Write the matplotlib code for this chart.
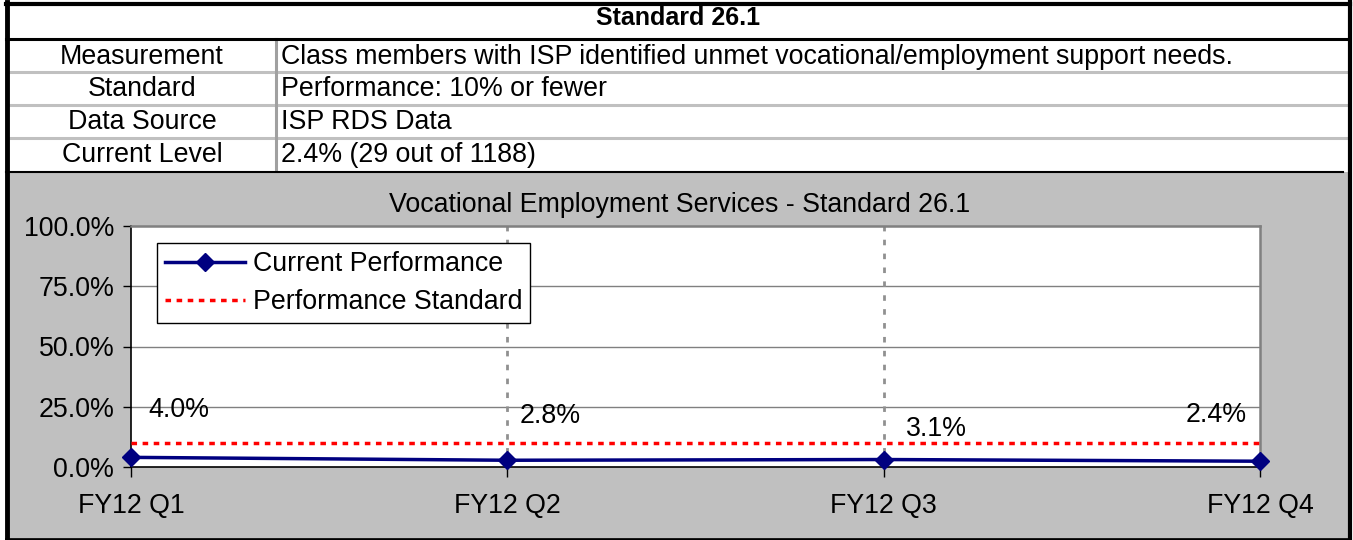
import matplotlib.pyplot as plt
from matplotlib.lines import Line2D
from matplotlib.patches import Rectangle

plt.rcParams['font.family'] = ['Liberation Sans', 'DejaVu Sans']

# Dados do quadro e do gráfico
titulo_tabela = "Standard 26.1"
rotulos_tabela = ["Measurement", "Standard", "Data Source", "Current Level"]
textos_tabela = [
    "Class members with ISP identified unmet vocational/employment support needs.",
    "Performance: 10% or fewer",
    "ISP RDS Data",
    "2.4% (29 out of 1188)",
]
titulo_grafico = "Vocational Employment Services - Standard 26.1"
trimestres = ["FY12 Q1", "FY12 Q2", "FY12 Q3", "FY12 Q4"]
desempenho = [4.0, 2.8, 3.1, 2.4]      # Current Performance (%)
padrao = [10.0, 10.0, 10.0, 10.0]       # Performance Standard (%)
ticks_y = [0, 25, 50, 75, 100]

# deslocamento dos rótulos de dados (pixels)
desloc_rotulos = [(48, 47), (43, 44), (53, 31), (-44, 46)]

W, H = 1353, 540
fs = 19.3
fig = plt.figure(figsize=(W / 100, H / 100), dpi=100)

# Camada de fundo em coordenadas de pixel
bg = fig.add_axes([0, 0, 1, 1])
bg.set_xlim(0, W)
bg.set_ylim(H, 0)
bg.axis("off")

bg.add_patch(Rectangle((6, 3), 1343, 169, facecolor="white", edgecolor="none"))
bg.add_patch(Rectangle((6, 172), 1343, 366, facecolor="#C0C0C0", edgecolor="none"))

# linhas da tabela
cinza = "#C0C0C0"
linhas_y = [72, 105, 138]
for y in linhas_y:
    bg.add_line(Line2D([8, 1347], [y, y], color=cinza, lw=2.2))
bg.add_line(Line2D([276, 276], [39, 171], color="#A0A0A0", lw=2.2))
bg.add_line(Line2D([6, 1349], [38.5, 38.5], color="black", lw=2.2))
bg.add_line(Line2D([6, 1343], [172, 172], color="black", lw=1.5))

# borda externa
bg.add_line(Line2D([7, 7], [2, 538], color="black", lw=3.5))
bg.add_line(Line2D([1349.5, 1349.5], [2, 538], color="black", lw=3))
bg.add_line(Line2D([6, 1350], [4, 4], color="black", lw=3))
bg.add_line(Line2D([6, 1350], [538.5, 538.5], color="black", lw=2))

bg.text(678, 18, titulo_tabela, ha="center", va="center", fontsize=fs - 1.3, fontweight="bold")
centros_y = [57, 89, 122, 155]
for rot, txt, y in zip(rotulos_tabela, textos_tabela, centros_y):
    bg.text(142, y, rot, ha="center", va="center", fontsize=fs)
    bg.text(281, y, txt, ha="left", va="center", fontsize=fs)

bg.text(680, 205, titulo_grafico, ha="center", va="center", fontsize=fs)

# Área do gráfico
x0, x1, y_top, y_bot = 131, 1260, 226, 467
ax = fig.add_axes([x0 / W, 1 - y_bot / H, (x1 - x0) / W, (y_bot - y_top) / H])
ax.set_facecolor("white")

x = list(range(len(trimestres)))
ax.set_xlim(0, len(trimestres) - 1)
ax.set_ylim(0, 100)

# grades
for v in ticks_y[1:-1]:
    ax.axhline(v, color="#808080", lw=1.0, zorder=1)
for xi in x[1:-1]:
    ax.axvline(xi, color="#909090", lw=2, linestyle=(0, (2, 3)), zorder=1)

ax.plot(x, padrao, color="#FF0000", lw=2.5, linestyle=(0, (1.6, 1.6)),
        label="Performance Standard", zorder=3)
ax.plot(x, desempenho, color="#000080", lw=2.5, marker="D", markersize=9,
        label="Current Performance", zorder=4, clip_on=False)

for xi, v, (dx, dy) in zip(x, desempenho, desloc_rotulos):
    ax.annotate(f"{v:.1f}%", (xi, v), xytext=(dx, dy), textcoords="offset pixels",
                ha="center", va="center", fontsize=fs)

ax.set_xticks(x)
ax.set_xticklabels(trimestres, fontsize=fs)
ax.set_yticks(ticks_y)
ax.set_yticklabels([f"{t:.1f}%" for t in ticks_y], fontsize=fs)
ax.tick_params(axis="y", direction="out", length=6, width=1, pad=6)
ax.tick_params(axis="x", direction="out", length=7, width=1, pad=12)

for s in ["left", "bottom"]:
    ax.spines[s].set_color("black")
    ax.spines[s].set_linewidth(1.2)
for s in ["top", "right"]:
    ax.spines[s].set_color("#808080")
    ax.spines[s].set_linewidth(1.8)

handles, labels = ax.get_legend_handles_labels()
leg = ax.legend(handles[::-1], labels[::-1], loc="upper left",
                bbox_to_anchor=(157 / W, 1 - 243 / H), bbox_transform=fig.transFigure,
                fontsize=fs, frameon=True, fancybox=False, framealpha=1,
                edgecolor="black", handlelength=3.0, handletextpad=0.27,
                labelspacing=0.46, borderpad=0.3, borderaxespad=0)
leg.get_frame().set_linewidth(1)

fig.savefig("out.png", dpi=100)
